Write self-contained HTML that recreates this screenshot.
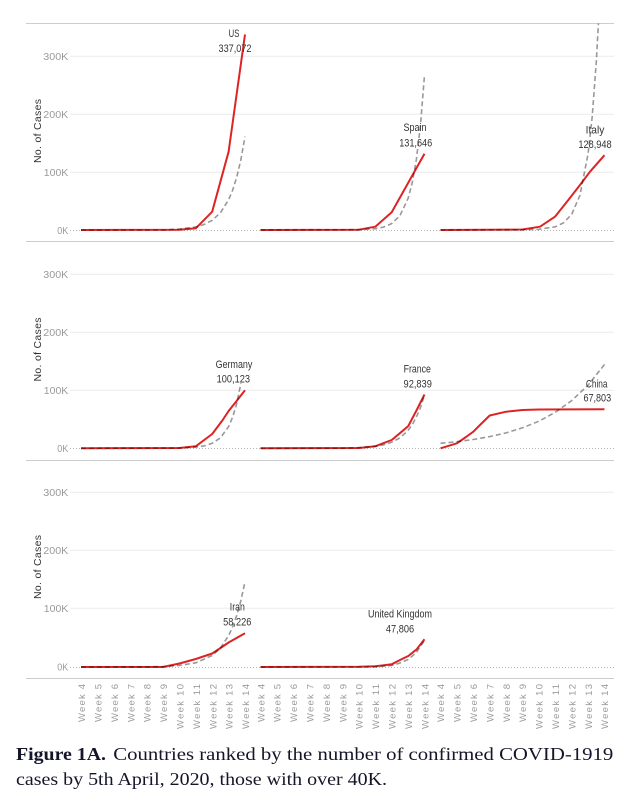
<!DOCTYPE html>
<html><head><meta charset="utf-8"><style>
html,body{margin:0;padding:0;background:#fff;}
svg{display:block;}
.tk{font-family:"Liberation Sans",sans-serif;font-size:10.5px;fill:#9a9a9a;text-anchor:end;}
.at{font-family:"Liberation Sans",sans-serif;font-size:10.5px;fill:#333;text-anchor:middle;}
.wk{font-family:"Liberation Sans",sans-serif;font-size:9.5px;fill:#9a9a9a;text-anchor:end;}
.lb{font-family:"Liberation Sans",sans-serif;font-size:11px;fill:#333;text-anchor:middle;}
.red{fill:none;stroke:#dd2424;stroke-width:2;stroke-linejoin:round;}
.gr{fill:none;stroke:#999;stroke-width:1.6;stroke-dasharray:5 3;mix-blend-mode:multiply;}
.cap{font-family:"Liberation Serif",serif;font-size:18px;fill:#15152a;}
</style></head><body>
<svg width="640" height="801" viewBox="0 0 640 801" xmlns="http://www.w3.org/2000/svg">
<defs><clipPath id="c1"><rect x="0" y="23.5" width="640" height="220"/></clipPath></defs>
<g stroke="#cdcdcd" stroke-width="1">
<line x1="26" y1="23.5" x2="614" y2="23.5"/>
<line x1="26" y1="241.5" x2="614" y2="241.5"/>
<line x1="26" y1="460.5" x2="614" y2="460.5"/>
<line x1="26" y1="678.5" x2="614" y2="678.5"/>
</g>
<g stroke="#ebebeb" stroke-width="1">
<line x1="70" y1="56.3" x2="614" y2="56.3"/><line x1="70" y1="114.3" x2="614" y2="114.3"/><line x1="70" y1="172.3" x2="614" y2="172.3"/>
<line x1="70" y1="274.3" x2="614" y2="274.3"/><line x1="70" y1="332.3" x2="614" y2="332.3"/><line x1="70" y1="390.3" x2="614" y2="390.3"/>
<line x1="70" y1="492.3" x2="614" y2="492.3"/><line x1="70" y1="550.3" x2="614" y2="550.3"/><line x1="70" y1="608.3" x2="614" y2="608.3"/>
</g>
<g stroke="#b5b5b5" stroke-width="1" stroke-dasharray="1 2">
<line x1="70" y1="230.5" x2="614" y2="230.5"/>
<line x1="70" y1="448.5" x2="614" y2="448.5"/>
<line x1="70" y1="667.5" x2="614" y2="667.5"/>
</g>
<g lengthAdjust="spacingAndGlyphs">
<text class="tk" x="68.3" y="60" textLength="25" lengthAdjust="spacingAndGlyphs">300K</text>
<text class="tk" x="68.3" y="118" textLength="25" lengthAdjust="spacingAndGlyphs">200K</text>
<text class="tk" x="68.3" y="176" textLength="24.5" lengthAdjust="spacingAndGlyphs">100K</text>
<text class="tk" x="68.3" y="233.8" textLength="11" lengthAdjust="spacingAndGlyphs">0K</text>
<text class="tk" x="68.3" y="278" textLength="25" lengthAdjust="spacingAndGlyphs">300K</text>
<text class="tk" x="68.3" y="336" textLength="25" lengthAdjust="spacingAndGlyphs">200K</text>
<text class="tk" x="68.3" y="394" textLength="24.5" lengthAdjust="spacingAndGlyphs">100K</text>
<text class="tk" x="68.3" y="452" textLength="11" lengthAdjust="spacingAndGlyphs">0K</text>
<text class="tk" x="68.3" y="496" textLength="25" lengthAdjust="spacingAndGlyphs">300K</text>
<text class="tk" x="68.3" y="554" textLength="25" lengthAdjust="spacingAndGlyphs">200K</text>
<text class="tk" x="68.3" y="612" textLength="24.5" lengthAdjust="spacingAndGlyphs">100K</text>
<text class="tk" x="68.3" y="670.7" textLength="11" lengthAdjust="spacingAndGlyphs">0K</text>
</g>
<text class="at" transform="translate(41.2,131) rotate(-90)" textLength="64">No. of Cases</text>
<text class="at" transform="translate(41.2,349.5) rotate(-90)" textLength="64">No. of Cases</text>
<text class="at" transform="translate(41.2,567) rotate(-90)" textLength="64">No. of Cases</text>

<path class="red" d="M81,230 L179.4,229.7 L195.8,228.3 L212.2,211.7 L228.6,151.7 L245,34.5"/>
<path class="gr" d="M81,230 L163,230 L179.4,229 L195.8,226.9 L204,224.5 L212.2,220.3 L220.4,212.8 L228.6,199.8 L232.7,190 L236.8,176.9 L240.9,159.6 L245,136.6"/>
<path class="red" d="M260.5,230 L359,229.7 L375.3,226.7 L391.7,212.3 L408.1,183 L424.5,153.7"/>
<path class="gr" d="M260.5,230 L358.9,229.7 L375.3,228.7 L383.5,227.1 L391.7,223.6 L399.9,215.7 L408.1,198.4 L412.2,183 L416.3,160 L420.4,126 L424.5,75.1"/>
<path class="red" d="M440.5,230 L522.5,229.5 L540,226.7 L555,216.7 L568.3,200 L580,185 L590,171.7 L604.5,155.2"/>
<path class="gr" clip-path="url(#c1)" d="M440.5,230 L522.5,229.8 L538.9,229.3 L555.3,226.8 L563.5,222.9 L571.7,214.3 L579.9,195.4 L588.1,153.7 L592.2,116.7 L596.3,61.8 L598.6,20"/>

<path class="red" d="M81,448.3 L179.4,448 L195.8,446.3 L212.2,434 L222.7,420 L228.6,411 L236,401.7 L245,390.2"/>
<path class="gr" d="M81,448.3 L179.4,448 L195.8,447.1 L204,445.9 L212.2,443.3 L220.4,437.9 L228.6,426.6 L232.7,417 L236.8,403.2 L240.9,383.3"/>
<path class="red" d="M260.5,448.3 L359,448 L375.3,446.3 L391.7,440 L401.7,431.7 L408.3,426 L416.7,410 L424.5,394.5"/>
<path class="gr" d="M260.5,448.3 L342.5,448.2 L358.9,447.6 L375.3,446.3 L383.5,444.8 L391.7,442.3 L399.9,437.9 L408.1,430.4 L412.2,424.7 L416.3,417.3 L420.4,407.7 L424.5,394.9"/>
<path class="red" d="M440.5,448.3 L456.9,443.3 L466,437 L473.3,431.7 L481,424 L489.7,415.5 L506.1,411.7 L522.5,410 L538.9,409.5 L604.5,409.3"/>
<path class="gr" d="M440.5,443.3 L456.9,441.7 L473.3,439.5 L489.7,436.6 L506.1,432.9 L522.5,427.8 L538.9,421.2 L555.3,412.3 L571.7,400.6 L588.1,385.1 L604.5,364.5"/>

<path class="red" d="M81,667 L163,667 L179.4,663.5 L195.8,659 L212.2,653.5 L222,647 L228.6,642.5 L245,633.2"/>
<path class="gr" d="M81,667 L163,666.7 L179.4,665.4 L195.8,662.8 L212.2,655.5 L220.4,648 L228.6,635.7 L232.7,626.7 L236.8,615.3 L240.9,600.6 L245,581.7"/>
<path class="red" d="M260.5,667 L359,666.8 L375.3,666.3 L391.7,664.3 L400,660 L408.3,656 L416.7,649.3 L424.5,639.3"/>
<path class="gr" d="M260.5,667 L359,667 L375.3,666.8 L391.7,665.5 L400,663 L408.3,659.5 L416.3,652.5 L424.5,640.5"/>

<text class="lb" x="234" y="37" textLength="10.7" lengthAdjust="spacingAndGlyphs">US</text>
<text class="lb" x="235" y="52" textLength="33" lengthAdjust="spacingAndGlyphs">337,072</text>
<text class="lb" x="415" y="131" textLength="23" lengthAdjust="spacingAndGlyphs">Spain</text>
<text class="lb" x="415.7" y="146.7" textLength="33" lengthAdjust="spacingAndGlyphs">131,646</text>
<text class="lb" x="595" y="133.3" textLength="18.7" lengthAdjust="spacingAndGlyphs">Italy</text>
<text class="lb" x="595" y="148" textLength="33.3" lengthAdjust="spacingAndGlyphs">128,948</text>
<text class="lb" x="234" y="368" textLength="36.7" lengthAdjust="spacingAndGlyphs">Germany</text>
<text class="lb" x="233.3" y="382.3" textLength="33.3" lengthAdjust="spacingAndGlyphs">100,123</text>
<text class="lb" x="417.3" y="372.3" textLength="27.3" lengthAdjust="spacingAndGlyphs">France</text>
<text class="lb" x="417.7" y="387.3" textLength="28.3" lengthAdjust="spacingAndGlyphs">92,839</text>
<text class="lb" x="596.7" y="387.3" textLength="21.7" lengthAdjust="spacingAndGlyphs">China</text>
<text class="lb" x="597.3" y="401.7" textLength="27.7" lengthAdjust="spacingAndGlyphs">67,803</text>
<text class="lb" x="237.3" y="610.7" textLength="15" lengthAdjust="spacingAndGlyphs">Iran</text>
<text class="lb" x="237.3" y="625.7" textLength="28.3" lengthAdjust="spacingAndGlyphs">58,226</text>
<text class="lb" x="400" y="617.3" textLength="64" lengthAdjust="spacingAndGlyphs">United Kingdom</text>
<text class="lb" x="400" y="632.3" textLength="28.3" lengthAdjust="spacingAndGlyphs">47,806</text>

<g>
<text class="wk" transform="translate(85.1,684) rotate(-90)" textLength="38">Week 4</text>
<text class="wk" transform="translate(101.5,684) rotate(-90)" textLength="38">Week 5</text>
<text class="wk" transform="translate(117.9,684) rotate(-90)" textLength="38">Week 6</text>
<text class="wk" transform="translate(134.3,684) rotate(-90)" textLength="38">Week 7</text>
<text class="wk" transform="translate(150.7,684) rotate(-90)" textLength="38">Week 8</text>
<text class="wk" transform="translate(167.1,684) rotate(-90)" textLength="38">Week 9</text>
<text class="wk" transform="translate(183.5,684) rotate(-90)" textLength="45">Week 10</text>
<text class="wk" transform="translate(199.9,684) rotate(-90)" textLength="45">Week 11</text>
<text class="wk" transform="translate(216.3,684) rotate(-90)" textLength="45">Week 12</text>
<text class="wk" transform="translate(232.7,684) rotate(-90)" textLength="45">Week 13</text>
<text class="wk" transform="translate(249.1,684) rotate(-90)" textLength="45">Week 14</text>

<text class="wk" transform="translate(264.3,684) rotate(-90)" textLength="38">Week 4</text>
<text class="wk" transform="translate(280.7,684) rotate(-90)" textLength="38">Week 5</text>
<text class="wk" transform="translate(297.1,684) rotate(-90)" textLength="38">Week 6</text>
<text class="wk" transform="translate(313.5,684) rotate(-90)" textLength="38">Week 7</text>
<text class="wk" transform="translate(329.9,684) rotate(-90)" textLength="38">Week 8</text>
<text class="wk" transform="translate(346.3,684) rotate(-90)" textLength="38">Week 9</text>
<text class="wk" transform="translate(362.7,684) rotate(-90)" textLength="45">Week 10</text>
<text class="wk" transform="translate(379.1,684) rotate(-90)" textLength="45">Week 11</text>
<text class="wk" transform="translate(395.5,684) rotate(-90)" textLength="45">Week 12</text>
<text class="wk" transform="translate(411.9,684) rotate(-90)" textLength="45">Week 13</text>
<text class="wk" transform="translate(428.3,684) rotate(-90)" textLength="45">Week 14</text>

<text class="wk" transform="translate(444.2,684) rotate(-90)" textLength="38">Week 4</text>
<text class="wk" transform="translate(460.6,684) rotate(-90)" textLength="38">Week 5</text>
<text class="wk" transform="translate(477,684) rotate(-90)" textLength="38">Week 6</text>
<text class="wk" transform="translate(493.4,684) rotate(-90)" textLength="38">Week 7</text>
<text class="wk" transform="translate(509.8,684) rotate(-90)" textLength="38">Week 8</text>
<text class="wk" transform="translate(526.2,684) rotate(-90)" textLength="38">Week 9</text>
<text class="wk" transform="translate(542.6,684) rotate(-90)" textLength="45">Week 10</text>
<text class="wk" transform="translate(559,684) rotate(-90)" textLength="45">Week 11</text>
<text class="wk" transform="translate(575.4,684) rotate(-90)" textLength="45">Week 12</text>
<text class="wk" transform="translate(591.8,684) rotate(-90)" textLength="45">Week 13</text>
<text class="wk" transform="translate(608.2,684) rotate(-90)" textLength="45">Week 14</text>
</g>

<text class="cap" x="16" y="760" font-weight="bold" fill="#000" textLength="90" lengthAdjust="spacingAndGlyphs">Figure 1A.</text>
<text class="cap" x="113.3" y="760" textLength="500" lengthAdjust="spacingAndGlyphs">Countries ranked by the number of confirmed COVID-1919</text>
<text class="cap" x="16" y="785" textLength="371" lengthAdjust="spacingAndGlyphs">cases by 5th April, 2020, those with over 40K.</text>
</svg>
</body></html>
